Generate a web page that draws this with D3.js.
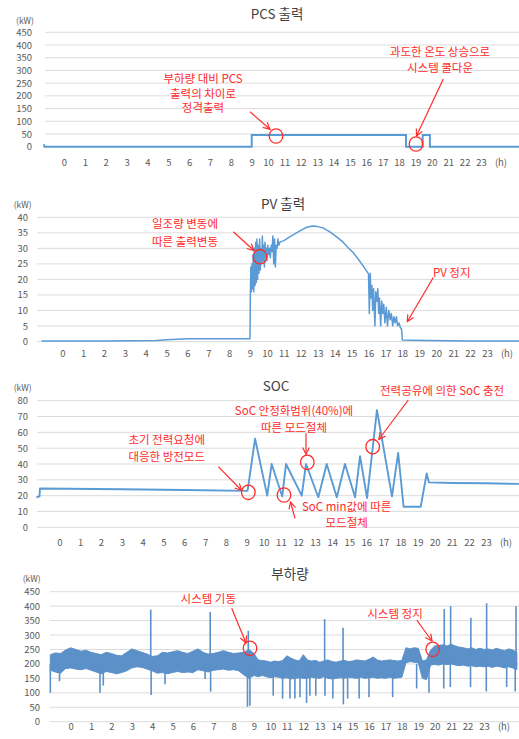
<!DOCTYPE html>
<html>
<head>
<meta charset="utf-8">
<script src="https://cdn.jsdelivr.net/npm/d3@7"></script>
<style>
  body { margin: 0; background: #fff; }
  svg { display: block; font-family: "Noto Sans CJK KR", "Noto Sans", sans-serif; }
</style>
</head>
<body>
<div id="chart"></div>
<script>
// ---- data ----
const hourTicks = [0,1,2,3,4,5,6,7,8,9,10,11,12,13,14,15,16,17,18,19,20,21,22,23];

// PCS output (kW)
const pcsHour = [-1, -0.95, -0.93, 9, 9, 18.42, 18.42, 19.44, 19.44, 19.88, 19.88, 25.5];
const pcsKw   = [6, 6, 0, 0, 46, 46, 0, 0, 46, 46, 0, 0];

// PV output (kW)
const pvHour = [-1, 2, 4.5, 5, 6, 7, 8, 8.99,
  9.0, 9.02, 9.05, 9.08, 9.12, 9.15, 9.19, 9.22, 9.26, 9.3, 9.33, 9.37, 9.41, 9.45, 9.49, 9.53,
  9.57, 9.61, 9.65, 9.69, 9.73, 9.77, 9.81, 9.85, 9.89, 9.93, 9.97, 10.0, 10.05, 10.1, 10.15,
  10.2, 10.25, 10.3, 10.35, 10.4, 10.45, 10.5, 10.55, 10.6, 10.65, 10.7, 10.77,
  11.0, 11.3, 11.6, 12.0, 12.35, 12.7, 13.0, 13.3, 13.7, 14.1, 14.5, 14.8, 15.1, 15.4, 15.7,
  16.0, 16.05, 16.1, 16.15, 16.2, 16.25, 16.3, 16.38, 16.43, 16.5, 16.55, 16.6, 16.65, 16.72,
  16.78, 16.85, 16.9, 16.97, 17.05, 17.12, 17.2, 17.28, 17.35, 17.43, 17.5, 17.58, 17.65,
  17.72, 17.8, 17.88, 17.95, 18.0, 18.5, 19.5, 22, 25.5];
const pvKw = [0.2, 0.2, 0.3, 0.6, 0.9, 0.9, 0.85, 0.9,
  0.9, 15, 24, 16, 25, 17, 28, 16, 30, 18, 32, 19, 33, 20, 31, 22,
  33, 23, 30, 25, 34, 26, 31, 24, 32, 27, 30, 26, 31, 28, 30,
  27, 31, 29, 34, 25, 33, 24, 31, 30, 33, 31, 32,
  32.5, 33.5, 34.5, 35.8, 36.8, 37.2, 37, 36.6, 35.4, 33.8, 32, 30.2, 28.6, 26.5, 24.2,
  21.8, 9, 22, 14, 18, 10, 17, 5, 16, 13, 17, 9, 14, 5,
  13, 9, 12, 6, 11, 5, 10, 7, 9, 5, 8, 6, 8,
  5, 6, 4.5, 4, 0.5, 0.4, 0.3, 0.2, 0.2];

// SOC
const socHour = [-1.1, -0.95, -0.93, 3, 6, 9.05, 9.49, 10.2, 10.46, 11.08, 11.3, 12.22, 12.47,
  13.19, 13.68, 14.27, 14.75, 15.34, 15.63, 16.04, 16.62, 17.5, 17.86, 18.18, 19.18, 19.53,
  19.66, 21, 23, 25.5];
const socVal = [19, 19.5, 24.5, 24, 23.6, 23, 56, 20, 40, 19.5, 40, 20, 40,
  19, 40, 19, 40, 19, 45, 18.5, 74, 19.5, 47, 13, 13, 34,
  28.4, 28, 27.8, 27.3];

// load: band envelope (kW)
const loadHour = [-1,-0.75,-0.5,-0.25,0,0.25,0.5,0.75,1,1.25,1.5,1.75,2,2.25,2.5,2.75,3,3.25,3.5,3.75,
  4,4.25,4.5,4.75,5,5.25,5.5,5.75,6,6.25,6.5,6.75,7,7.25,7.5,7.75,8,8.25,8.5,8.75,
  9,9.25,9.5,9.75,10,10.25,10.5,10.75,11,11.25,11.5,11.75,12,12.25,12.5,12.75,13,13.25,13.5,13.75,
  14,14.25,14.5,14.75,15,15.25,15.5,15.75,16,16.25,16.5,16.75,17,17.25,17.5,17.75,18,18.25,18.5,18.75,
  19,19.25,19.5,19.75,20,20.25,20.5,20.75,21,21.25,21.5,21.75,22,22.25,22.5,22.75,23,23.25,23.5,23.75,
  24,24.25,24.5,24.75,25];
const loadHi = [232,238,236,248,256,250,244,247,240,236,232,240,236,230,228,240,252,246,240,234,
  226,228,240,238,242,246,240,236,244,252,240,234,236,240,246,240,236,238,240,250,
  236,214,212,210,206,210,208,212,228,220,214,210,232,214,210,212,206,210,214,208,
  206,210,212,208,210,214,212,210,216,224,214,210,212,214,212,210,212,256,252,256,
  254,210,214,248,262,264,266,262,268,262,258,256,252,256,250,254,250,252,248,254,
  250,246,252,248,240];
const loadLo = [178,172,168,184,186,182,180,184,178,172,166,174,170,166,170,176,186,190,188,182,
  176,168,170,166,170,174,170,172,170,180,176,172,178,180,182,178,180,176,162,150,
  160,156,160,156,152,156,154,150,152,148,150,152,150,150,154,152,150,156,150,148,
  150,152,150,154,152,150,154,150,152,154,150,152,150,154,150,152,154,204,208,206,
  204,150,146,196,198,196,200,198,200,196,194,196,192,194,190,192,190,192,188,192,
  190,186,190,186,180];

// load: isolated spikes (kW)
const spikeHour = [-1.0, -0.55, 1.44, 1.6, 3.93, 3.95, 4.63, 6.6, 6.85, 6.87, 8.68, 8.72, 8.8,
  10.17, 10.74, 11.19, 11.49, 11.8, 12.2, 12.4, 12.76, 13.3, 13.32, 13.8, 14.42, 14.44, 14.7,
  15.4, 16.0, 17.44, 18.9, 19.65, 20.55, 20.58, 20.95, 20.97, 22.18, 22.2, 23.14, 23.16,
  24.38, 24.9, 24.95];
const spikeKw = [100, 140, 100, 125, 388, 92, 130, 148, 380, 104, 52, 315, 55,
  90, 80, 80, 80, 85, 65, 90, 90, 355, 90, 80, 325, 60, 80,
  80, 85, 85, 115, 100, 115, 390, 120, 400, 120, 360, 105, 410,
  120, 105, 400];

// ---- drawing ----
const W = 519, H = 739;
const blue = "#5b9bd5", red = "#ff2b2b", grey = "#595959";

const svg = d3.select("#chart").append("svg")
  .attr("width", W).attr("height", H);

svg.append("defs").append("marker")
  .attr("id", "arr").attr("viewBox", "0 0 10 10")
  .attr("refX", 9).attr("refY", 5)
  .attr("markerWidth", 7).attr("markerHeight", 7)
  .attr("orient", "auto")
  .append("path").attr("d", "M1,1 L9,5 L1,9")
  .attr("fill", "none").attr("stroke", red).attr("stroke-width", 1.4);

function panel(cfg) {
  const g = svg.append("g");
  const x = d3.scaleLinear().domain([0, 9, 23]).range(cfg.xr);
  const y = d3.scaleLinear().domain([0, cfg.yMax]).range(cfg.yr);

  // grid
  g.append("g").selectAll("line").data(cfg.yTicks).join("line")
    .attr("x1", cfg.left).attr("x2", W)
    .attr("y1", d => y(d)).attr("y2", d => y(d))
    .attr("stroke", "#dcdcdc").attr("stroke-width", 1);

  // y axis labels
  const ya = g.append("g")
    .attr("transform", `translate(${cfg.yLabelX},0)`)
    .call(d3.axisLeft(y).tickValues(cfg.yTicks).tickSize(0).tickPadding(0));
  ya.select(".domain").remove();
  ya.selectAll("text").attr("fill", grey).style("font-size", "9.5px")
    .style("font-family", "'Noto Sans CJK KR', sans-serif");

  // x axis labels
  const xa = g.append("g")
    .attr("transform", `translate(0,${cfg.xLabelY})`)
    .call(d3.axisBottom(x).tickValues(hourTicks).tickSize(0).tickPadding(0).tickFormat(d3.format("d")));
  xa.select(".domain").remove();
  xa.selectAll("text").attr("dy", "0.32em").attr("fill", grey).style("font-size", "9.5px")
    .style("font-family", "'Noto Sans CJK KR', sans-serif");

  g.append("text").attr("x", x(23) + 20).attr("y", cfg.xLabelY)
    .attr("dy", "0.32em").attr("text-anchor", "middle")
    .attr("fill", grey).style("font-size", "9.5px").text("(h)");

  g.append("text").attr("x", cfg.kwX).attr("y", cfg.kwY)
    .attr("dominant-baseline", "central").attr("text-anchor", "middle")
    .attr("fill", grey).style("font-size", "8.5px").text("(kW)");

  g.append("text").attr("x", cfg.titleX).attr("y", cfg.titleY)
    .attr("dominant-baseline", "central").attr("text-anchor", "middle")
    .attr("fill", "#404040").style("font-size", "13.5px").text(cfg.title);

  return { g, x, y };
}

function annotate(g, notes) {
  (notes.texts || []).forEach(t => {
    t.lines.forEach((ln, i) => {
      g.append("text").attr("x", t.x).attr("y", t.y[i])
        .attr("dominant-baseline", "central")
        .attr("text-anchor", t.anchor || "middle")
        .attr("fill", red).style("font-size", "11.5px").text(ln);
    });
  });
  (notes.arrows || []).forEach(a => {
    g.append("line").attr("x1", a[0]).attr("y1", a[1]).attr("x2", a[2]).attr("y2", a[3])
      .attr("stroke", red).attr("stroke-width", 1.2).attr("marker-end", "url(#arr)");
  });
  (notes.circles || []).forEach(c => {
    g.append("ellipse").attr("cx", c[0]).attr("cy", c[1]).attr("rx", 6.8).attr("ry", 7.2)
      .attr("fill", "none").attr("stroke", red).attr("stroke-width", 1.3);
  });
}

// ---- panel 1: PCS ----
const p1 = panel({
  title: "PCS 출력", titleX: 277, titleY: 13,
  xr: [64, 251.7, 481], yMax: 450, yr: [146.7, 32.3],
  yTicks: [0,50,100,150,200,250,300,350,400,450],
  left: 45, yLabelX: 32, xLabelY: 163, kwX: 25, kwY: 20
});
const pcs = pcsHour.map((h, i) => [h, pcsKw[i]]);
p1.g.append("path").datum(pcs)
  .attr("d", d3.line().x(d => p1.x(d[0])).y(d => p1.y(d[1])))
  .attr("fill", "none").attr("stroke", blue).attr("stroke-width", 2);
annotate(p1.g, {
  texts: [
    { x: 203, y: [78.3, 92.7, 107.3], lines: ["부하량 대비 PCS", "출력의 차이로", "정격출력"] },
    { x: 440, y: [50.7, 66.7], lines: ["과도한 온도 상승으로", "시스템 쿨다운"] }
  ],
  arrows: [[250, 111.7, 270, 129.3], [443.3, 79, 416.5, 136]],
  circles: [[276, 136], [416, 144]]
});

// ---- panel 2: PV ----
const p2 = panel({
  title: "PV 출력", titleX: 283, titleY: 202.7,
  xr: [62.3, 250, 487], yMax: 40, yr: [341.5, 217.3],
  yTicks: [0,5,10,15,20,25,30,35,40],
  left: 37, yLabelX: 28, xLabelY: 354, kwX: 22.7, kwY: 204
});
const pv = pvHour.map((h, i) => [h, pvKw[i]]);
p2.g.append("path").datum(pv)
  .attr("d", d3.line().x(d => p2.x(d[0])).y(d => p2.y(d[1])))
  .attr("fill", "none").attr("stroke", blue).attr("stroke-width", 1.5)
  .attr("stroke-linejoin", "round");
annotate(p2.g, {
  texts: [
    { x: 185, y: [222.7, 241], lines: ["일조량 변동에", "따른 출력변동"] },
    { x: 451.7, y: [271.7], lines: ["PV 정지"] }
  ],
  arrows: [[233.3, 231.7, 254, 250.5], [433.3, 277.5, 407.3, 321.7]],
  circles: [[260, 256.7]]
});

// ---- panel 3: SOC ----
const p3 = panel({
  title: "SOC", titleX: 276, titleY: 385,
  xr: [59.3, 246.7, 486], yMax: 80, yr: [527.3, 400.7],
  yTicks: [0,10,20,30,40,50,60,70,80],
  left: 37, yLabelX: 28, xLabelY: 543, kwX: 22.7, kwY: 387
});
const soc = socHour.map((h, i) => [h, socVal[i]]);
p3.g.append("path").datum(soc)
  .attr("d", d3.line().x(d => p3.x(d[0])).y(d => p3.y(d[1])))
  .attr("fill", "none").attr("stroke", blue).attr("stroke-width", 1.9)
  .attr("stroke-linejoin", "round");
annotate(p3.g, {
  texts: [
    { x: 166.7, y: [439, 455.7], lines: ["초기 전력요청에", "대응한 방전모드"] },
    { x: 294, y: [410, 426.7], lines: ["SoC 안정화범위(40%)에", "따른 모드절체"] },
    { x: 380, y: [390], lines: ["전력공유에 의한 SoC 충전"], anchor: "start" },
    { x: 346.7, y: [505.7, 521.7], lines: ["SoC min값에  따른", "모드절체"] }
  ],
  arrows: [[218.3, 466.7, 241.7, 490.5], [306, 433.3, 306, 454.3],
           [408.3, 400, 378.8, 439.5], [295, 518.3, 290.5, 502]],
  circles: [[248.3, 492.3], [307.3, 462.3], [372.7, 446.7], [284, 495]]
});

// ---- panel 4: load ----
const p4 = panel({
  title: "부하량", titleX: 290, titleY: 573,
  xr: [70.7, 254, 484], yMax: 450, yr: [721.7, 591.7],
  yTicks: [0,50,100,150,200,250,300,350,400,450],
  left: 50, yLabelX: 40, xLabelY: 727, kwX: 31.7, kwY: 577.7
});
const load = loadHour.map((h, i) => ({ h, hi: loadHi[i], lo: loadLo[i] }));
p4.g.append("path").datum(load)
  .attr("d", d3.area().x(d => p4.x(d.h)).y0(d => p4.y(d.lo)).y1(d => p4.y(d.hi)))
  .attr("fill", "#5b90c8").attr("stroke", "#5b90c8").attr("stroke-width", 1);
p4.g.append("g").selectAll("line").data(spikeHour.map((h, i) => [h, spikeKw[i]])).join("line")
  .attr("x1", d => p4.x(d[0])).attr("x2", d => p4.x(d[0]))
  .attr("y1", p4.y(200)).attr("y2", d => p4.y(d[1]))
  .attr("stroke", "#5b90c8").attr("stroke-width", 1.6);
annotate(p4.g, {
  texts: [
    { x: 208.3, y: [598.3], lines: ["시스템 기동"] },
    { x: 395, y: [613.3], lines: ["시스템 정지"] }
  ],
  arrows: [[231.7, 608.3, 246, 643], [416.7, 620, 432, 641]],
  circles: [[250, 648.3], [432.7, 649.3]]
});
</script>
</body>
</html>
